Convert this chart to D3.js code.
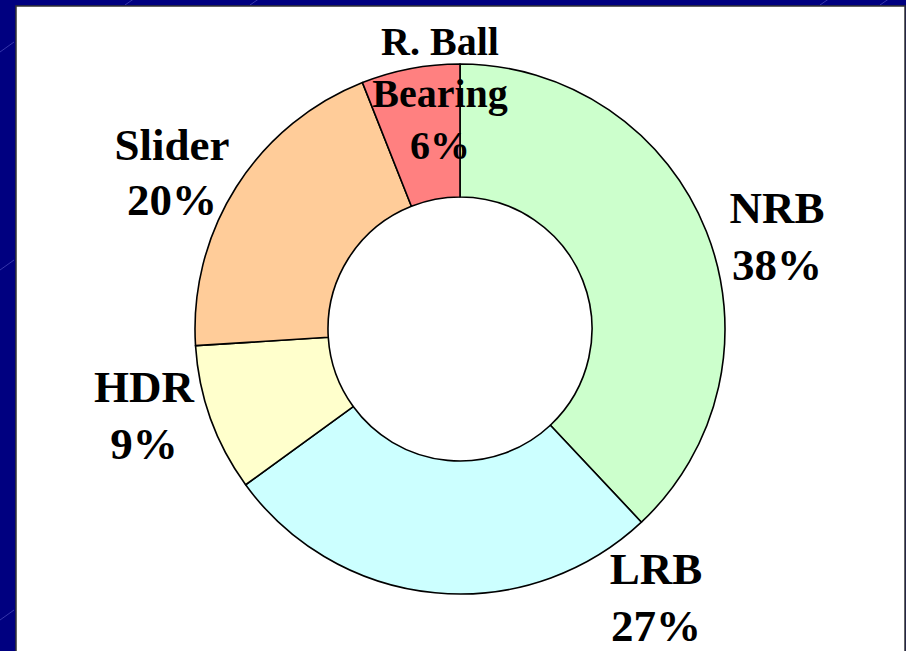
<!DOCTYPE html>
<html>
<head>
<meta charset="utf-8">
<script src="https://cdn.jsdelivr.net/npm/d3@7/dist/d3.min.js"></script>
<style>
  html, body { margin: 0; padding: 0; background: #000080; }
  svg { display: block; }
</style>
</head>
<body>
<div id="chart"></div>
<script>
// bearing types and their share (%)
const categories = ["NRB", "LRB", "HDR", "Slider", "R. Ball Bearing"];
const values = [38, 27, 9, 20, 6];
const colors = ["#CCFFCC", "#CCFFFF", "#FFFFCC", "#FFCC99", "#FF8080"];

// label lines as shown on the slide
const labelLines = [["NRB"], ["LRB"], ["HDR"], ["Slider"], ["R. Ball", "Bearing"]];

const width = 906, height = 651;
const cx = 460, cy = 329;
const outerR = 265, innerR = 132;

const svg = d3.select("#chart").append("svg")
  .attr("width", width)
  .attr("height", height);

// dark blue slide background with faint diagonal strokes
svg.append("rect")
  .attr("width", width).attr("height", height)
  .attr("fill", "#000080");

const streaks = [[0, 52, 14, 42], [125, 5, 135, -2], [250, 5, 260, -2], [820, 5, 830, -2], [880, 5, 890, -2], [0, 620, 14, 610], [0, 270, 14, 260]];
svg.selectAll(".streak")
  .data(streaks)
  .enter()
  .append("line")
  .attr("x1", d => d[0]).attr("y1", d => d[1])
  .attr("x2", d => d[2]).attr("y2", d => d[3])
  .attr("stroke", "#5a5ac8")
  .attr("stroke-width", 1)
  .attr("opacity", 0.6);

// white panel
svg.append("rect")
  .attr("x", 16).attr("y", 6)
  .attr("width", 889).attr("height", 660)
  .attr("fill", "#fff")
  .attr("stroke", "#333")
  .attr("stroke-width", 1.5);

const data = categories.map((c, i) => ({ name: c, value: values[i], color: colors[i], lines: labelLines[i] }));

const pie = d3.pie()
  .sort(null)
  .value(d => d.value)
  .startAngle(0)
  .endAngle(2 * Math.PI);

const arc = d3.arc()
  .innerRadius(innerR)
  .outerRadius(outerR);

const g = svg.append("g")
  .attr("transform", `translate(${cx}, ${cy})`);

g.selectAll(".slice")
  .data(pie(data))
  .enter()
  .append("path")
  .attr("class", "slice")
  .attr("d", arc)
  .attr("fill", d => d.data.color)
  .attr("stroke", "#000")
  .attr("stroke-width", 1.6)
  .attr("stroke-linejoin", "round");

// label anchors (centre x, first baseline y) relative to page
const labelPos = {
  "NRB": [777, 223, 45, 57],
  "LRB": [656, 584, 45, 57],
  "HDR": [144, 402, 45, 57],
  "Slider": [172, 160, 45, 55],
  "R. Ball Bearing": [440, 55, 40, 52]
};

const labels = svg.selectAll(".label")
  .data(data)
  .enter()
  .append("text")
  .attr("class", "label")
  .attr("text-anchor", "middle")
  .attr("font-family", "'Liberation Serif', 'Times New Roman', serif")
  .attr("font-weight", "bold")
  .attr("font-size", d => labelPos[d.name][2])
  .attr("fill", "#000");

labels.each(function(d) {
  const [x, y, fs, lh] = labelPos[d.name];
  const lines = d.lines.concat([d.value + "%"]);
  d3.select(this).selectAll("tspan")
    .data(lines)
    .enter()
    .append("tspan")
    .attr("x", x)
    .attr("y", (t, i) => y + i * lh)
    .text(t => t);
});
</script>
</body>
</html>
